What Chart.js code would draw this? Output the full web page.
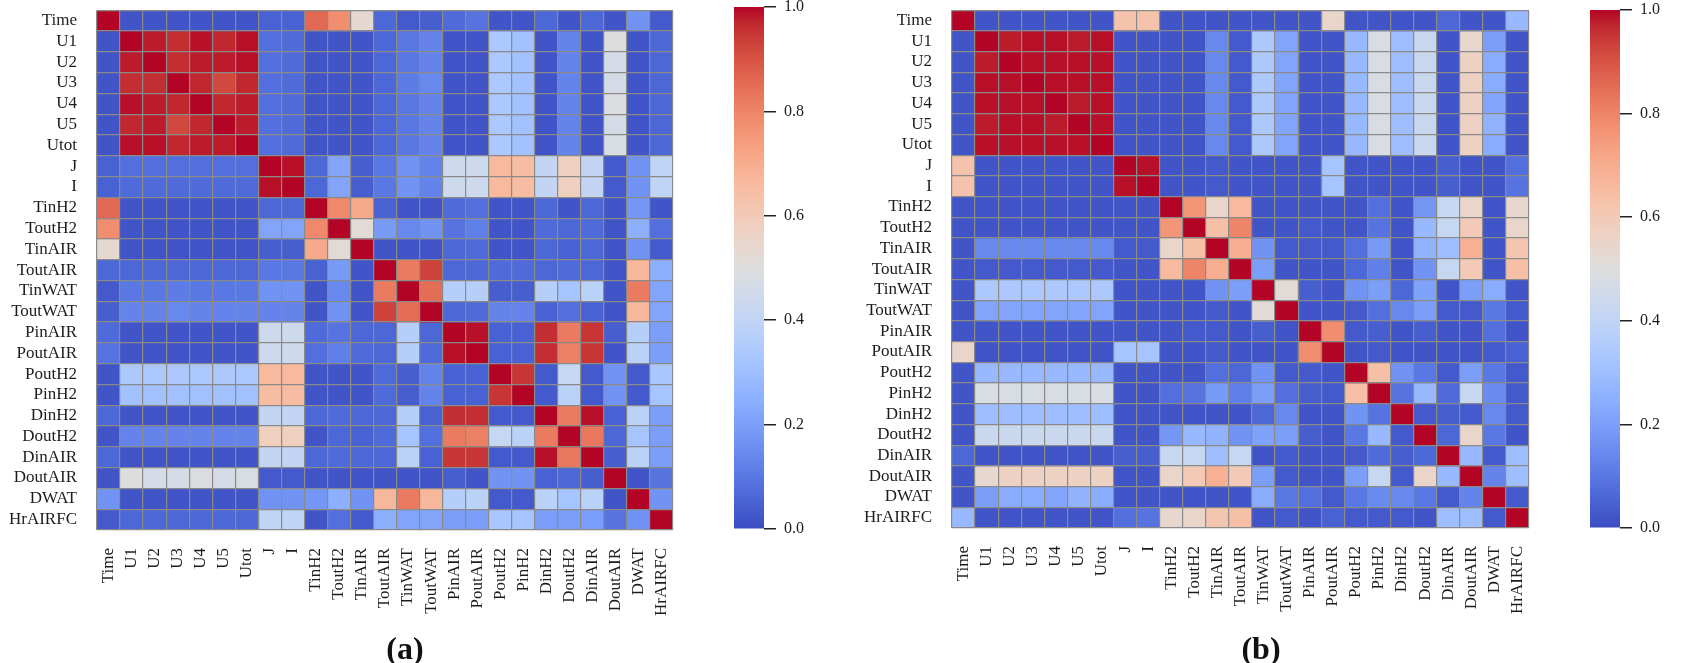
<!DOCTYPE html>
<html>
<head>
<meta charset="utf-8">
<script src="https://cdn.jsdelivr.net/npm/chart.js@4.4.1/dist/chart.umd.min.js"></script>
<style>
html, body { margin: 0; padding: 0; background: #ffffff; }
body { width: 1692px; height: 663px; position: relative; overflow: hidden; }
.box { position: absolute; top: -20px; height: 683px; }
.box canvas { display: block; }
.cap { position: absolute; top: 630px; line-height: 32px; font: bold 32px "Liberation Serif", "Times New Roman", serif; color: #111; transform: translateX(-50%); white-space: nowrap; }
</style>
</head>
<body>
<div class="box" style="left:0px;width:700px"><canvas id="heatA"></canvas></div>
<div class="box" style="left:700px;width:120px"><canvas id="barA"></canvas></div>
<div class="box" style="left:855px;width:701px"><canvas id="heatB"></canvas></div>
<div class="box" style="left:1555px;width:121px"><canvas id="barB"></canvas></div>
<div class="cap" style="left:405px">(a)</div>
<div class="cap" style="left:1261px">(b)</div>
<script>
// ---------------- data ----------------
const variables = ["Time","U1","U2","U3","U4","U5","Utot","J","I","TinH2","ToutH2","TinAIR","ToutAIR","TinWAT","ToutWAT","PinAIR","PoutAIR","PoutH2","PinH2","DinH2","DoutH2","DinAIR","DoutAIR","DWAT","HrAIRFC"];

// panel (a) correlation matrix, one row per variable
const corrA = [
/*Time   */ [1.00,.02,.02,.02,.02,.02,.02,.05,.05,.86,.78,.53,.06,.03,.04,.07,.09,.02,.02,.06,.02,.06,.02,.17,.03],
/*U1     */ [.02,1.00,.98,.96,.99,.97,.99,.08,.07,.02,.02,.02,.06,.10,.13,.02,.02,.34,.31,.02,.13,.02,.50,.02,.06],
/*U2     */ [.02,.98,1.00,.96,.98,.98,.99,.08,.07,.02,.02,.02,.06,.10,.13,.02,.02,.34,.31,.02,.13,.02,.47,.02,.06],
/*U3     */ [.02,.96,.96,1.00,.97,.92,.97,.08,.07,.02,.02,.02,.06,.11,.14,.02,.02,.34,.31,.02,.13,.02,.47,.02,.06],
/*U4     */ [.02,.99,.98,.97,1.00,.97,.98,.08,.07,.02,.02,.02,.06,.10,.13,.02,.02,.34,.31,.02,.13,.02,.49,.02,.06],
/*U5     */ [.02,.97,.98,.92,.97,1.00,.98,.08,.07,.02,.02,.02,.06,.10,.13,.02,.02,.34,.31,.02,.13,.02,.47,.02,.06],
/*Utot   */ [.02,.99,.99,.97,.98,.98,1.00,.08,.07,.02,.02,.02,.06,.10,.13,.02,.02,.34,.31,.02,.13,.02,.48,.02,.06],
/*J      */ [.05,.08,.08,.08,.08,.08,.08,1.00,.99,.06,.22,.04,.10,.17,.13,.44,.44,.66,.65,.41,.58,.41,.03,.17,.40],
/*I      */ [.05,.07,.07,.07,.07,.07,.07,.99,1.00,.06,.22,.04,.10,.17,.13,.44,.44,.66,.65,.41,.58,.41,.03,.17,.40],
/*TinH2  */ [.86,.02,.02,.02,.02,.02,.02,.06,.06,1.00,.79,.71,.05,.02,.02,.07,.08,.02,.02,.06,.02,.06,.02,.18,.02],
/*ToutH2 */ [.78,.02,.02,.02,.02,.02,.02,.22,.22,.79,1.00,.52,.19,.14,.17,.09,.12,.02,.02,.07,.06,.07,.02,.25,.08],
/*TinAIR */ [.53,.02,.02,.02,.02,.02,.02,.04,.04,.71,.52,1.00,.02,.02,.02,.06,.07,.02,.02,.06,.05,.06,.02,.17,.03],
/*ToutAIR*/ [.06,.06,.06,.06,.06,.06,.06,.10,.10,.05,.19,.02,1.00,.82,.93,.06,.06,.07,.07,.06,.07,.06,.02,.67,.25],
/*TinWAT */ [.03,.10,.10,.11,.10,.10,.10,.17,.17,.02,.14,.02,.82,1.00,.85,.37,.37,.04,.04,.37,.32,.38,.02,.82,.22],
/*ToutWAT*/ [.04,.13,.13,.14,.13,.13,.13,.13,.13,.02,.17,.02,.93,.85,1.00,.06,.07,.13,.13,.05,.08,.05,.02,.67,.22],
/*PinAIR */ [.07,.02,.02,.02,.02,.02,.02,.44,.44,.07,.09,.06,.06,.37,.06,1.00,.99,.05,.05,.96,.82,.95,.04,.37,.20],
/*PoutAIR*/ [.09,.02,.02,.02,.02,.02,.02,.44,.44,.08,.12,.07,.06,.37,.07,.99,1.00,.05,.05,.96,.81,.95,.02,.38,.20],
/*PoutH2 */ [.02,.34,.34,.34,.34,.34,.34,.66,.66,.02,.02,.02,.07,.04,.13,.05,.05,1.00,.95,.03,.42,.03,.17,.03,.33],
/*PinH2  */ [.02,.31,.31,.31,.31,.31,.31,.65,.65,.02,.02,.02,.07,.04,.13,.05,.05,.95,1.00,.03,.38,.03,.17,.03,.32],
/*DinH2  */ [.06,.02,.02,.02,.02,.02,.02,.41,.41,.06,.07,.06,.06,.37,.05,.96,.96,.03,.03,1.00,.82,.99,.05,.38,.20],
/*DoutH2 */ [.02,.13,.13,.13,.13,.13,.13,.58,.58,.02,.06,.05,.07,.32,.08,.82,.81,.42,.38,.82,1.00,.83,.06,.32,.20],
/*DinAIR */ [.06,.02,.02,.02,.02,.02,.02,.41,.41,.06,.07,.06,.06,.38,.05,.95,.95,.03,.03,.99,.83,1.00,.04,.38,.20],
/*DoutAIR*/ [.02,.50,.47,.47,.49,.47,.48,.03,.03,.02,.02,.02,.02,.02,.02,.04,.02,.17,.17,.05,.06,.04,1.00,.02,.09],
/*DWAT   */ [.17,.02,.02,.02,.02,.02,.02,.17,.17,.18,.25,.17,.67,.82,.67,.37,.38,.03,.03,.38,.32,.38,.02,1.00,.17],
/*HrAIRFC*/ [.03,.06,.06,.06,.06,.06,.06,.40,.40,.02,.08,.03,.25,.22,.22,.20,.20,.33,.32,.20,.20,.20,.09,.17,1.00]
];

// panel (b) correlation matrix, one row per variable
const corrB = [
/*Time   */ [1.00,.02,.02,.02,.02,.02,.02,.63,.63,.02,.02,.02,.02,.02,.02,.02,.55,.02,.02,.02,.02,.06,.02,.02,.28],
/*U1     */ [.02,1.00,.98,.99,.99,.98,.99,.02,.02,.02,.02,.14,.03,.34,.22,.02,.02,.28,.48,.30,.43,.02,.54,.20,.02],
/*U2     */ [.02,.98,1.00,.99,.99,.99,.99,.02,.02,.02,.02,.14,.03,.34,.22,.02,.02,.28,.48,.30,.43,.02,.57,.24,.02],
/*U3     */ [.02,.99,.99,1.00,.99,.99,.99,.02,.02,.02,.02,.14,.03,.34,.22,.02,.02,.28,.48,.30,.43,.02,.57,.24,.02],
/*U4     */ [.02,.99,.99,.99,1.00,.98,.99,.02,.02,.02,.02,.14,.03,.34,.22,.02,.02,.28,.48,.30,.43,.02,.57,.22,.02],
/*U5     */ [.02,.98,.99,.99,.98,1.00,.99,.02,.02,.02,.02,.14,.03,.34,.22,.02,.02,.28,.48,.30,.43,.02,.57,.26,.02],
/*Utot   */ [.02,.99,.99,.99,.99,.99,1.00,.02,.02,.02,.02,.14,.03,.34,.22,.02,.02,.28,.48,.30,.43,.02,.57,.24,.02],
/*J      */ [.63,.02,.02,.02,.02,.02,.02,1.00,.99,.02,.02,.03,.02,.02,.02,.02,.32,.02,.02,.02,.02,.04,.02,.02,.08],
/*I      */ [.63,.02,.02,.02,.02,.02,.02,.99,1.00,.02,.02,.03,.02,.02,.02,.02,.32,.02,.02,.02,.02,.04,.02,.02,.09],
/*TinH2  */ [.02,.02,.02,.02,.02,.02,.02,.02,.02,1.00,.76,.55,.66,.02,.02,.02,.02,.02,.08,.02,.18,.42,.55,.02,.54],
/*ToutH2 */ [.02,.02,.02,.02,.02,.02,.02,.02,.02,.76,1.00,.64,.80,.02,.02,.03,.02,.02,.09,.02,.28,.42,.60,.02,.55],
/*TinAIR */ [.02,.14,.14,.14,.14,.14,.14,.03,.03,.55,.64,1.00,.70,.17,.03,.03,.03,.08,.19,.02,.26,.30,.69,.02,.62],
/*ToutAIR*/ [.02,.03,.03,.03,.03,.03,.03,.02,.02,.66,.80,.70,1.00,.20,.02,.02,.02,.06,.12,.02,.17,.42,.60,.02,.64],
/*TinWAT */ [.02,.34,.34,.34,.34,.34,.34,.02,.02,.02,.02,.17,.20,1.00,.52,.04,.02,.17,.20,.06,.21,.02,.20,.24,.02],
/*ToutWAT*/ [.02,.22,.22,.22,.22,.22,.22,.02,.02,.02,.02,.03,.02,.52,1.00,.02,.02,.03,.08,.14,.20,.03,.03,.10,.03],
/*PinAIR */ [.02,.02,.02,.02,.02,.02,.02,.02,.02,.02,.03,.03,.02,.04,.02,1.00,.78,.03,.04,.02,.04,.02,.02,.08,.02],
/*PoutAIR*/ [.55,.02,.02,.02,.02,.02,.02,.32,.32,.02,.02,.03,.02,.02,.02,.78,1.00,.02,.03,.02,.02,.02,.02,.03,.05],
/*PoutH2 */ [.02,.28,.28,.28,.28,.28,.28,.02,.02,.02,.02,.08,.06,.17,.03,.03,.02,1.00,.64,.17,.10,.03,.20,.10,.03],
/*PinH2  */ [.02,.48,.48,.48,.48,.48,.48,.02,.02,.08,.09,.19,.12,.20,.08,.04,.03,.64,1.00,.09,.28,.07,.42,.15,.03],
/*DinH2  */ [.02,.30,.30,.30,.30,.30,.30,.02,.02,.02,.02,.02,.02,.06,.14,.02,.02,.17,.09,1.00,.03,.04,.03,.14,.03],
/*DoutH2 */ [.02,.43,.43,.43,.43,.43,.43,.02,.02,.18,.28,.26,.17,.21,.20,.04,.02,.10,.28,.03,1.00,.06,.55,.10,.02],
/*DinAIR */ [.06,.02,.02,.02,.02,.02,.02,.04,.04,.42,.42,.30,.42,.02,.03,.02,.02,.03,.07,.04,.06,1.00,.28,.03,.30],
/*DoutAIR*/ [.02,.54,.57,.57,.57,.57,.57,.02,.02,.55,.60,.69,.60,.20,.03,.02,.02,.20,.42,.03,.55,.28,1.00,.13,.30],
/*DWAT   */ [.02,.20,.24,.24,.22,.26,.24,.02,.02,.02,.02,.02,.02,.24,.10,.08,.03,.10,.15,.14,.10,.03,.13,1.00,.03],
/*HrAIRFC*/ [.28,.02,.02,.02,.02,.02,.02,.08,.09,.54,.55,.62,.64,.02,.03,.02,.05,.03,.03,.03,.02,.30,.30,.03,1.00]
];

const colorbarRange = [0, 1];
const colorbarTicks = [0.0, 0.2, 0.4, 0.6, 0.8, 1.0];

// ---------------- colormap (coolwarm) ----------------
const CW = [[59,76,192],[68,90,204],[77,104,215],[87,117,225],[98,130,234],[108,142,241],[119,154,247],[130,165,251],[141,176,254],[152,185,255],[163,194,255],[174,201,253],[184,208,249],[194,213,244],[204,217,238],[213,219,230],[221,221,221],[229,216,209],[236,211,197],[241,204,185],[245,196,173],[247,187,160],[247,177,148],[247,166,135],[244,154,123],[241,141,111],[236,127,99],[229,112,88],[222,96,77],[213,80,66],[203,62,56],[192,40,47],[180,4,38]];
function coolwarm(v) {
  const t = Math.max(0, Math.min(1, (v - colorbarRange[0]) / (colorbarRange[1] - colorbarRange[0])));
  const p = t * (CW.length - 1);
  const i = Math.min(CW.length - 2, Math.floor(p));
  const f = p - i;
  const a = CW[i], b = CW[i + 1];
  const c = a.map((x, k) => Math.round(x + (b[k] - x) * f));
  return 'rgb(' + c.join(',') + ')';
}

const FONT = '"Liberation Serif", "Times New Roman", serif';
const TEXT = '#1c1c1c';
const GRID = '#8a8a8a';

Chart.defaults.animation = false;
Chart.defaults.plugins.legend.display = false;
Chart.defaults.plugins.tooltip.enabled = false;

function makeHeat(id, matrix, padTop, axisH, padRight) {
  const datasets = matrix.map((row, r) => ({
    label: variables[r],
    data: row.map(() => 1),
    backgroundColor: row.map(v => coolwarm(v)),
    borderWidth: 0,
    stack: 'cells',
    barPercentage: 1,
    categoryPercentage: 1
  }));
  return new Chart(document.getElementById(id), {
    type: 'bar',
    data: { labels: variables, datasets },
    options: {
      responsive: true,
      maintainAspectRatio: false,
      layout: { padding: { top: padTop, right: padRight, left: 0, bottom: 0 } },
      scales: {
        x: {
          type: 'category', stacked: true, offset: true,
          grid: { offset: true, color: GRID, lineWidth: 1.2, z: 1, drawTicks: false },
          border: { display: false },
          ticks: { autoSkip: false, minRotation: 90, maxRotation: 90, padding: 18, color: TEXT, font: { family: FONT, size: 17 } },
          afterFit: s => { s.height = axisH; }
        },
        y: {
          type: 'linear', stacked: true, reverse: true, min: 0, max: variables.length,
          afterBuildTicks: s => { s.ticks = variables.concat(['']).map((_, i) => ({ value: i })); },
          grid: { color: GRID, lineWidth: 1.2, z: 1, drawTicks: false },
          border: { display: false },
          ticks: { display: false },
          afterFit: s => { s.width = 0; }
        },
        rows: {
          type: 'category', axis: 'y', position: 'left', labels: variables, offset: true,
          grid: { display: false, drawTicks: false },
          border: { display: false },
          ticks: { autoSkip: false, padding: 20, color: TEXT, font: { family: FONT, size: 17 } },
          afterFit: s => { s.width = 97; }
        }
      }
    }
  });
}

function gradientFill(context) {
  const chart = context.chart;
  const area = chart.chartArea;
  if (!area) return coolwarm(0.5);
  const g = chart.ctx.createLinearGradient(0, area.bottom, 0, area.top);
  CW.forEach((c, i) => g.addColorStop(i / (CW.length - 1), 'rgb(' + c.join(',') + ')'));
  return g;
}

function makeBar(id, padTop, padBottom, padLeft) {
  return new Chart(document.getElementById(id), {
    type: 'bar',
    data: {
      labels: [''],
      datasets: [{
        data: [colorbarRange[1]],
        base: colorbarRange[0],
        backgroundColor: gradientFill,
        borderWidth: 0,
        barPercentage: 1,
        categoryPercentage: 1
      }]
    },
    options: {
      responsive: true,
      maintainAspectRatio: false,
      layout: { padding: { top: padTop, bottom: padBottom, left: padLeft, right: 0 } },
      scales: {
        x: { display: false },
        y: {
          position: 'right', min: colorbarRange[0], max: colorbarRange[1],
          afterBuildTicks: s => { s.ticks = colorbarTicks.map(v => ({ value: v })); },
          grid: { drawOnChartArea: false, drawTicks: true, tickLength: 12, color: '#222', lineWidth: 1.5 },
          border: { display: false },
          ticks: { padding: 8, color: TEXT, font: { family: FONT, size: 16 }, callback: v => Number(v).toFixed(1) },
          afterFit: s => { s.width = 56; }
        }
      }
    }
  });
}

makeHeat('heatA', corrA, 27, 133, 10);
makeBar('barA', 27, 134, 34);
makeHeat('heatB', corrB, 30, 135, 10);
makeBar('barB', 30, 135, 35);
</script>
</body>
</html>
